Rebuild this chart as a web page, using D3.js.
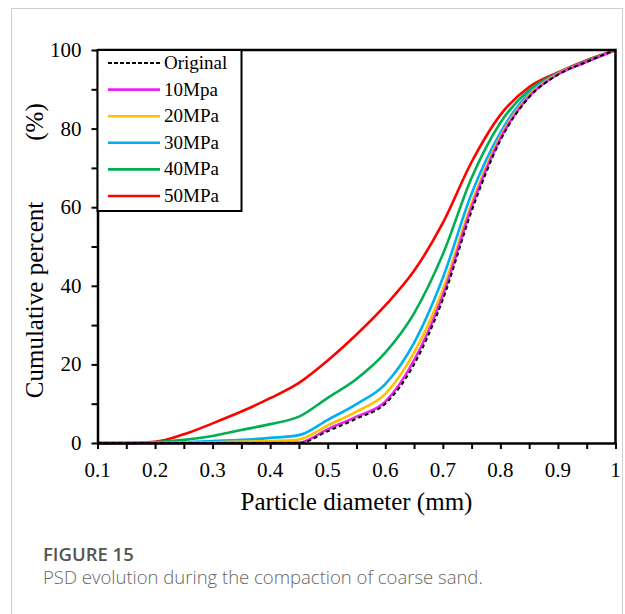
<!DOCTYPE html>
<html>
<head>
<meta charset="utf-8">
<script src="https://cdn.jsdelivr.net/npm/d3@7"></script>
<style>
  html, body { margin: 0; padding: 0; background: #fff; }
  svg { display: block; }
</style>
</head>
<body>
<div id="chart"></div>
<script>
const diameters = [0.1, 0.15, 0.2, 0.25, 0.3, 0.35, 0.4, 0.45, 0.5, 0.55, 0.6, 0.65, 0.7, 0.75, 0.8, 0.85, 0.9, 0.95, 1.0]

const original = [0, 0, 0, 0, 0, 0, 0, 0, 3, 6.2, 10, 20, 36.5, 59, 77, 88, 93.7, 97, 100]
const mpa10 = [0, 0, 0, 0, 0, 0, 0, 0.1, 3.5, 6.7, 10.5, 21, 37.5, 60, 77.5, 88.2, 93.8, 97, 100]
const mpa20 = [0, 0, 0, 0.1, 0.2, 0.35, 0.5, 0.9, 4.5, 8, 12.5, 23, 39, 61, 78, 88.5, 93.9, 97, 100]
const mpa30 = [0, 0, 0, 0.2, 0.5, 0.8, 1.3, 2.0, 5.9, 9.9, 15, 25.5, 42, 63.5, 79, 89, 94, 97.1, 100]
const mpa40 = [0, 0, 0.2, 0.8, 1.8, 3.3, 4.8, 6.7, 11.5, 16.3, 23, 33, 48, 67.5, 81.5, 89.8, 94.1, 97.2, 100]
const mpa50 = [0, 0, 0.3, 2.2, 5, 8, 11.4, 15.3, 21, 27.6, 35, 43.8, 56, 71.5, 83.5, 90.6, 94.3, 97.4, 100]

const seriesNames = ['Original', '10Mpa', '20MPa', '30MPa', '40MPa', '50MPa']
const seriesValues = [original, mpa10, mpa20, mpa30, mpa40, mpa50]
const seriesColors = ['#000000', '#ee22ee', '#ffc000', '#00b0f0', '#00b050', '#ff0000']

const xTickLabels = ['0.1', '0.2', '0.3', '0.4', '0.5', '0.6', '0.7', '0.8', '0.9', '1']
const yTickLabels = ['0', '20', '40', '60', '80', '100']

const width = 625
const height = 614
const plot = { left: 97.5, right: 615.5, top: 50, bottom: 443 }
const serif = '"Liberation Serif", "Times New Roman", serif'

const svg = d3.select('#chart')
  .append('svg')
  .attr('width', width)
  .attr('height', height)

// card outline
svg.append('rect')
  .attr('x', 11.5).attr('y', 8.5)
  .attr('width', 611).attr('height', 620)
  .attr('fill', 'none')
  .attr('stroke', '#cfcfcf')
  .attr('stroke-width', 1)

const x = d3.scaleLinear().domain([0.1, 1]).range([plot.left, plot.right])
const y = d3.scaleLinear().domain([0, 100]).range([plot.bottom, plot.top])

// curves (drawn first, frame on top)
const line = d3.line()
  .x(d => x(d[0]))
  .y(d => y(d[1]))
  .curve(d3.curveMonotoneX)

// draw from 50MPa down to Original so the dashed line stays visible
for (let i = seriesValues.length - 1; i >= 0; i--) {
  const pts = diameters.map((dd, j) => [dd, seriesValues[i][j]])
  svg.append('path')
    .datum(pts)
    .attr('d', line)
    .attr('fill', 'none')
    .attr('stroke', seriesColors[i])
    .attr('stroke-width', i === 0 ? 2 : 2.6)
    .attr('stroke-dasharray', i === 0 ? '4,3' : null)
}

// x axis
const xAxis = svg.append('g')
  .attr('transform', `translate(0,${plot.bottom})`)
  .call(d3.axisBottom(x)
    .tickValues(d3.range(0.1, 1.0001, 0.05))
    .tickSize(6)
    .tickSizeOuter(0)
    .tickFormat(''))
xAxis.select('.domain').attr('stroke-width', 2.5)
xAxis.selectAll('.tick line').attr('stroke-width', 2)

svg.append('g')
  .selectAll('text')
  .data(xTickLabels)
  .enter()
  .append('text')
  .attr('x', d => x(+d))
  .attr('y', plot.bottom + 34)
  .attr('text-anchor', 'middle')
  .attr('font-family', serif)
  .attr('font-size', 21)
  .text(d => d)

// y axis
const yAxis = svg.append('g')
  .attr('transform', `translate(${plot.left},0)`)
  .call(d3.axisLeft(y)
    .tickValues(d3.range(0, 101, 10))
    .tickSize(6)
    .tickSizeOuter(0)
    .tickFormat(''))
yAxis.select('.domain').attr('stroke-width', 2.5)
yAxis.selectAll('.tick line').attr('stroke-width', 2)

svg.append('g')
  .selectAll('text')
  .data(yTickLabels)
  .enter()
  .append('text')
  .attr('x', plot.left - 16)
  .attr('y', d => y(+d) + 7)
  .attr('text-anchor', 'end')
  .attr('font-family', serif)
  .attr('font-size', 21)
  .text(d => d)

// top and right frame
svg.append('path')
  .attr('d', `M${plot.left},${plot.top}H${plot.right}V${plot.bottom}`)
  .attr('fill', 'none')
  .attr('stroke', '#000')
  .attr('stroke-width', 2.5)

// axis titles
svg.append('text')
  .attr('x', (plot.left + plot.right) / 2)
  .attr('y', 510)
  .attr('text-anchor', 'middle')
  .attr('font-family', serif)
  .attr('font-size', 25)
  .text('Particle diameter (mm)')

svg.append('text')
  .attr('transform', 'translate(43,300) rotate(-90)')
  .attr('text-anchor', 'middle')
  .attr('font-family', serif)
  .attr('font-size', 25)
  .text('Cumulative percent')

svg.append('text')
  .attr('transform', 'translate(43,122) rotate(-90)')
  .attr('text-anchor', 'middle')
  .attr('font-family', serif)
  .attr('font-size', 25)
  .text('(%)')

// legend
const legend = svg.append('g')
legend.append('rect')
  .attr('x', plot.left).attr('y', plot.top)
  .attr('width', 144).attr('height', 161)
  .attr('fill', '#fff')
  .attr('stroke', '#000')
  .attr('stroke-width', 2)

const rowY = d3.scaleLinear().domain([0, 5]).range([63, 196])
seriesNames.forEach((name, i) => {
  legend.append('line')
    .attr('x1', 108).attr('x2', 160)
    .attr('y1', rowY(i)).attr('y2', rowY(i))
    .attr('stroke', seriesColors[i])
    .attr('stroke-width', i === 0 ? 2.2 : 2.6)
    .attr('stroke-dasharray', i === 0 ? '4,2' : null)
  legend.append('text')
    .attr('x', 164)
    .attr('y', rowY(i) + 6)
    .attr('font-family', serif)
    .attr('font-size', 19)
    .text(name)
})

// caption
svg.append('text')
  .attr('x', 43).attr('y', 561)
  .attr('font-family', '"Open Sans", "Noto Sans", sans-serif')
  .attr('font-size', 18.5)
  .attr('font-weight', 600)
  .attr('fill', '#555')
  .text('FIGURE 15')

svg.append('text')
  .attr('x', 43).attr('y', 584)
  .attr('font-family', '"Open Sans", "Noto Sans", sans-serif')
  .attr('font-size', 18.5)
  .attr('font-weight', 300)
  .attr('fill', '#666')
  .text('PSD evolution during the compaction of coarse sand.')
</script>
</body>
</html>
